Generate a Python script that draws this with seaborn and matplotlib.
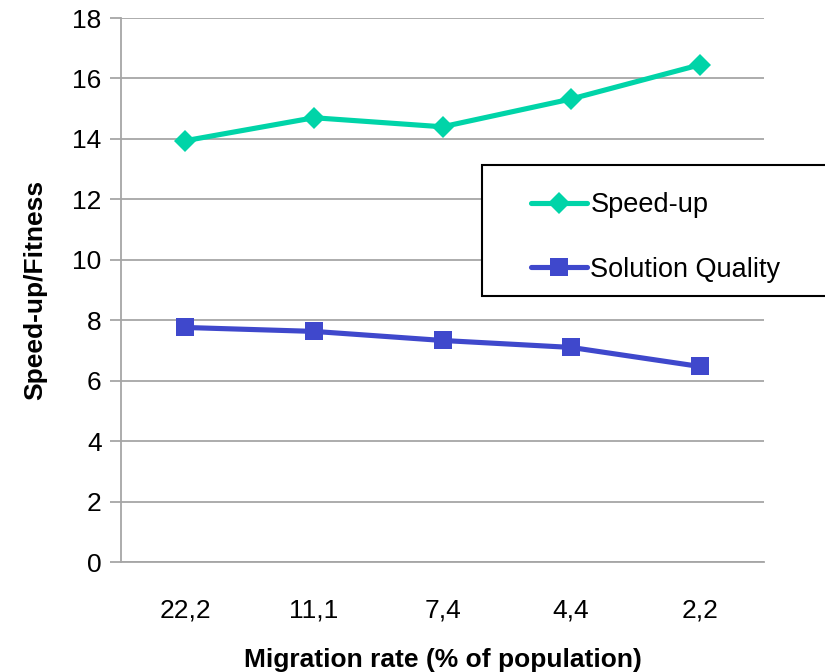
import matplotlib
matplotlib.use("Agg")
import matplotlib.pyplot as plt
from matplotlib.patches import Rectangle
import seaborn as sns
import pandas as pd

categories = ["22,2", "11,1", "7,4", "4,4", "2,2"]
speed_up = [13.94, 14.70, 14.40, 15.32, 16.45]
solution_quality = [7.76, 7.63, 7.33, 7.10, 6.47]
yticks = [0, 2, 4, 6, 8, 10, 12, 14, 16, 18]

sns.set_theme(style="white")
plt.rcParams['font.family'] = ['Liberation Sans', 'DejaVu Sans']
plt.rcParams['text.color'] = 'black'
plt.rcParams['axes.labelcolor'] = 'black'

df = pd.DataFrame({
    "Migration": categories * 2,
    "value": speed_up + solution_quality,
    "series": ["Speed-up"] * 5 + ["Solution Quality"] * 5,
})

W, H = 825, 672
fig = plt.figure(figsize=(W / 100, H / 100), dpi=100)
ax = fig.add_axes([121 / W, 1 - 562 / H, (764 - 121) / W, (562 - 18) / H])

palette = {"Speed-up": "#00D4A8", "Solution Quality": "#3F48CC"}
markers = {"Speed-up": "D", "Solution Quality": "s"}
sns.lineplot(data=df, x="Migration", y="value", hue="series", style="series",
             palette=palette, markers=markers, dashes=False, sort=False,
             linewidth=3.7, markersize=13, markeredgewidth=0, ax=ax)

for line in ax.get_lines():
    if line.get_marker() == "D":
        line.set_markersize(11.5)

ax.set_xlim(-0.5, 4.5)
ax.set_ylim(0, 18)
ax.set_yticks(yticks)
ax.yaxis.grid(True, color="#A6A6A6", linewidth=1.3)
ax.xaxis.grid(False)
ax.set_axisbelow(True)
for s in ["top", "right"]:
    ax.spines[s].set_visible(False)
for s in ["left", "bottom"]:
    ax.spines[s].set_color("#A6A6A6")
    ax.spines[s].set_linewidth(1.3)
ax.tick_params(axis="y", which="both", left=True, length=8, width=1.3, color="#A6A6A6",
               labelsize=19, pad=6, labelcolor="black")
ax.tick_params(axis="x", bottom=False, labelsize=19, pad=20, labelcolor="black")

ax.set_xlabel("Migration rate (% of population)", fontsize=19, fontweight="bold",
              labelpad=19, color="black")
ax.set_ylabel("Speed-up/Fitness", fontsize=19, fontweight="bold", labelpad=18, color="black")

# legend frame (extends past the right edge as in the reference)
frame = Rectangle((482 / W, 1 - 296 / H), (832 - 482) / W, (296 - 165) / H,
                  transform=fig.transFigure, facecolor="white", edgecolor="black",
                  linewidth=1.5, clip_on=False, zorder=4)
ax.add_artist(frame)

handles, labels = ax.get_legend_handles_labels()
leg = ax.legend(handles, labels, loc="upper left",
                bbox_to_anchor=(531 / W, 1 - 192 / H), bbox_transform=fig.transFigure,
                fontsize=19.5, frameon=False,
                borderpad=0, labelspacing=1.43, handlelength=2.07, handletextpad=0.12,
                borderaxespad=0)
leg.set_zorder(5)
for h in leg.legend_handles:
    h.set_linewidth(3.7)
for t in leg.get_texts():
    t.set_color("black")

fig.savefig("out.png", dpi=100)
